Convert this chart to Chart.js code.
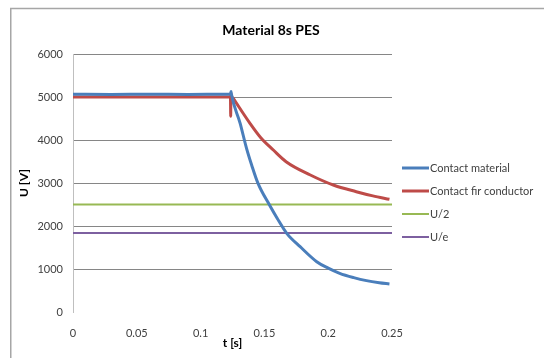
<!DOCTYPE html>
<html>
<head>
<meta charset="utf-8">
<script src="https://cdn.jsdelivr.net/npm/chart.js@4"></script>
<style>
  html, body { margin: 0; padding: 0; background: #fff; }
  #wrap { width: 544px; height: 358px; }
</style>
</head>
<body>
<div id="wrap"><canvas id="myChart" width="544" height="358"></canvas></div>
<script>
// values
const chartTitle = 'Material 8s PES';
const xTicks = [0, 0.05, 0.1, 0.15, 0.2, 0.25];

const tMaterial = [0, 0.03, 0.06, 0.09, 0.12, 0.1236, 0.1238, 0.124, 0.131, 0.136, 0.14, 0.145, 0.154, 0.16, 0.1675, 0.178, 0.191, 0.2, 0.209, 0.22, 0.23, 0.24, 0.248];
const uMaterial = [5065, 5060, 5065, 5060, 5065, 5065, 5130, 5085, 4388, 3806, 3420, 2992, 2488, 2180, 1830, 1519, 1170, 1020, 900, 800, 729, 680, 651];

const tConductor = [0, 0.06, 0.1234, 0.1236, 0.1237, 0.124, 0.1256, 0.1387, 0.147, 0.157, 0.167, 0.186, 0.204, 0.222, 0.235, 0.248];
const uConductor = [5000, 5000, 5000, 4550, 5100, 5040, 4969, 4388, 4060, 3767, 3496, 3186, 2953, 2798, 2700, 2620];

const uHalf = 2500;
const uE = 1840;

const textColor = '#404040';
const fontName = 'Lato, "Open Sans", sans-serif';

function pairs(xs, ys) {
  return xs.map((x, i) => ({ x: x, y: ys[i] }));
}

const data = {
  datasets: [{
    label: 'Contact material',
    borderColor: '#4a7ebb',
    backgroundColor: '#4a7ebb',
    borderWidth: 3,
    data: pairs(tMaterial, uMaterial),
  },
  {
    label: 'Contact fir conductor',
    borderColor: '#be4b48',
    backgroundColor: '#be4b48',
    borderWidth: 3,
    data: pairs(tConductor, uConductor),
  },
  {
    label: 'U/2',
    borderColor: '#98b954',
    backgroundColor: '#98b954',
    borderWidth: 2,
    data: pairs([0, 0.25], [uHalf, uHalf]),
  },
  {
    label: 'U/e',
    borderColor: '#7d60a0',
    backgroundColor: '#7d60a0',
    borderWidth: 2,
    data: pairs([0, 0.25], [uE, uE]),
  }
  ]
};

// outer frame, title and legend
const extras = {
  id: 'extras',
  beforeDraw(chart) {
    const c = chart.ctx;
    c.save();
    c.fillStyle = '#fff';
    c.fillRect(0, 0, chart.width, chart.height);
    c.strokeStyle = '#a6a6a6';
    c.lineWidth = 1.5;
    c.beginPath();
    c.moveTo(10.75, chart.height);
    c.lineTo(10.75, 8.5);
    c.lineTo(chart.width, 8.5);
    c.stroke();
    c.restore();
  },
  afterDraw(chart) {
    const c = chart.ctx;
    c.save();
    c.fillStyle = '#000';
    c.font = 'bold 14px ' + fontName;
    c.textAlign = 'center';
    c.textBaseline = 'middle';
    c.fillText(chartTitle, 271, 30);

    c.font = '11px ' + fontName;
    c.textAlign = 'left';
    chart.data.datasets.forEach((ds, i) => {
      const y = 168 + i * 23;
      c.strokeStyle = ds.borderColor;
      c.lineWidth = ds.borderWidth;
      c.beginPath();
      c.moveTo(402, y);
      c.lineTo(429, y);
      c.stroke();
      c.fillStyle = textColor;
      c.fillText(ds.label, 430, y);
    });
    c.restore();
  }
};

const config = {
  type: 'line',
  data,
  options: {
    responsive: false,
    animation: false,
    cubicInterpolationMode: 'monotone',
    elements: { point: { radius: 0 } },
    layout: { padding: { left: 0, right: 152, top: 54, bottom: 0 } },
    plugins: {
      legend: { display: false },
      tooltip: { enabled: false },
      title: { display: false }
    },
    scales: {
      x: {
        type: 'linear',
        min: 0,
        max: 0.25,
        afterBuildTicks: (axis) => { axis.ticks = xTicks.map(v => ({ value: v })); },
        afterFit: (axis) => { axis.height = 46; },
        grid: { display: false, drawTicks: false },
        border: { display: false },
        ticks: {
          color: textColor, padding: 15, maxRotation: 0,
          font: { family: fontName, size: 11 },
          callback: (v) => String(v)
        },
        title: {
          display: true,
          text: 't [s]',
          color: '#000',
          font: { family: fontName, size: 12, weight: 'bold' },
          padding: { top: 0, bottom: 8 }
        }
      },
      y: {
        min: 0,
        max: 6000,
        afterFit: (axis) => { axis.width = 73; },
        grid: {
          drawTicks: false,
          color: (ctx) => ctx.tick && ctx.tick.value === 0 ? 'rgba(0,0,0,0)' : '#868686'
        },
        border: { display: true, color: '#bfbfbf' },
        ticks: {
          stepSize: 1000, color: textColor, padding: 10,
          font: { family: fontName, size: 11 },
          callback: (v) => String(v)
        },
        title: {
          display: true,
          text: 'U [V]',
          color: '#000',
          font: { family: fontName, size: 12, weight: 'bold' },
          padding: { top: 17, bottom: 0 }
        }
      }
    }
  },
  plugins: [extras]
};

const myChart = new Chart(
  document.getElementById('myChart').getContext('2d'),
  config
);
</script>
</body>
</html>
